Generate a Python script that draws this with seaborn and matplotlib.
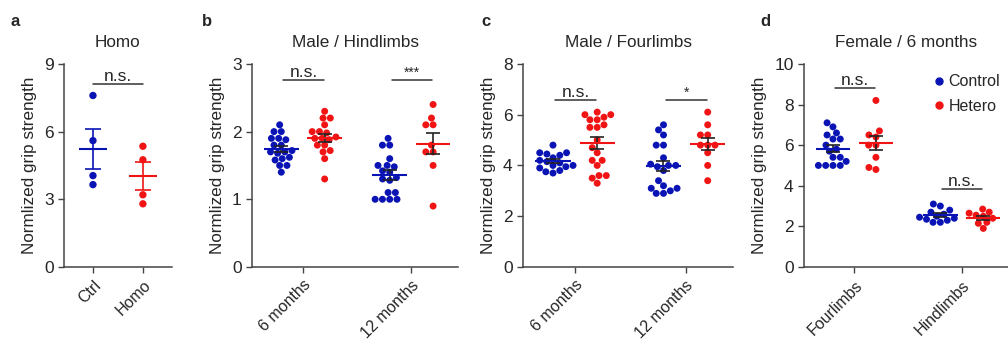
import numpy as np
import pandas as pd
import seaborn as sns
import matplotlib.pyplot as plt
from matplotlib.lines import Line2D

sns.set_style("ticks")
plt.rcParams["font.family"] = ["Liberation Sans", "DejaVu Sans"]

BLUE = "#0a14b4"
RED = "#f01414"

# ---- data ----
# a: Homo
a_ctrl = [7.6, 5.6, 4.05, 3.65]
a_homo = [5.35, 4.75, 3.2, 2.8]

# b: Male / Hindlimbs
b_ctrl_6m = [2.1, 2.0, 2.0, 1.9, 1.9, 1.88, 1.8, 1.8, 1.72, 1.7, 1.68, 1.7, 1.6, 1.58, 1.62, 1.5, 1.5, 1.4]
b_het_6m = [2.3, 2.2, 2.2, 2.1, 2.0, 2.0, 1.98, 1.92, 1.9, 1.9, 1.88, 1.8, 1.8, 1.72, 1.7, 1.6, 1.3]
b_ctrl_12m = [1.9, 1.8, 1.8, 1.6, 1.5, 1.5, 1.48, 1.4, 1.42, 1.3, 1.32, 1.28, 1.1, 1.1, 1.0, 1.0, 1.0, 1.0]
b_het_12m = [2.4, 2.2, 2.1, 2.1, 1.8, 1.7, 1.7, 1.5, 0.9]

# c: Male / Fourlimbs
c_ctrl_6m = [4.8, 4.5, 4.5, 4.45, 4.4, 4.3, 4.2, 4.15, 4.1, 4.0, 4.0, 3.95, 3.9, 3.8, 3.75, 3.7]
c_het_6m = [6.1, 6.0, 6.0, 5.9, 5.8, 5.8, 5.6, 5.5, 5.5, 5.0, 4.7, 4.5, 4.2, 4.2, 4.0, 3.6, 3.6, 3.5, 3.3]
c_ctrl_12m = [5.6, 5.4, 5.2, 4.8, 4.8, 4.3, 4.05, 4.0, 4.0, 3.95, 3.8, 3.4, 3.2, 3.1, 3.1, 3.0, 2.9, 2.9]
c_het_12m = [6.1, 5.6, 5.2, 5.2, 4.8, 4.8, 4.8, 4.5, 4.0, 3.4]

# d: Female / 6 months
d_ctrl_four = [7.1, 6.9, 6.6, 6.5, 6.3, 6.3, 6.0, 5.8, 5.7, 5.4, 5.4, 5.2, 5.0, 5.0, 5.0, 5.0]
d_het_four = [8.2, 6.7, 6.5, 6.4, 6.0, 6.0, 5.4, 4.9, 4.8]
d_ctrl_hind = [3.1, 3.0, 2.8, 2.7, 2.6, 2.5, 2.45, 2.4, 2.35, 2.3, 2.2, 2.2]
d_het_hind = [2.85, 2.7, 2.65, 2.55, 2.5, 2.4, 2.2, 2.15, 1.9]

groups = ["Control", "Hetero"]
age_cats = ["6 months", "12 months"]
limb_cats = ["Fourlimbs", "Hindlimbs"]


def frame(cats, ctrl_lists, het_lists):
    rows = []
    for cat, cl, hl in zip(cats, ctrl_lists, het_lists):
        rows += [(cat, "Control", v) for v in cl]
        rows += [(cat, "Hetero", v) for v in hl]
    return pd.DataFrame(rows, columns=["cat", "group", "value"])


def mean_sem(ax, x, vals, color, half, capsize, errcolor):
    vals = np.asarray(vals)
    m = vals.mean()
    se = vals.std(ddof=1) / np.sqrt(len(vals))
    ax.errorbar(x, m, yerr=se, fmt="none", ecolor=errcolor, elinewidth=1.2,
                capsize=capsize, capthick=1.2, zorder=5)
    ax.hlines(m, x - half, x + half, color=color, lw=1.5, zorder=6)


def sig(ax, x0, x1, y, text, fs=12.5):
    ax.plot([x0, x1], [y, y], color="#333333", lw=1.1, clip_on=False)
    ax.text((x0 + x1) / 2, y, text, ha="center", va="bottom", fontsize=fs)


def style(ax, ymax, step, title):
    ax.set_ylim(0, ymax)
    ax.set_yticks(np.arange(0, ymax + 0.01, step))
    ax.set_title(title, fontsize=12.3, pad=12)
    ax.set_xlabel("")
    ax.set_ylabel("Normlized grip strength", fontsize=12.3, labelpad=5)
    ax.tick_params(axis="y", labelsize=12.5, length=4, width=1, color="#444444")
    ax.tick_params(axis="x", labelsize=11.5, length=4, width=1, color="#444444")
    for lab in ax.get_xticklabels():
        lab.set_rotation(45)
        lab.set_ha("right")
        lab.set_rotation_mode("anchor")
    for s in ["left", "bottom"]:
        ax.spines[s].set_color("#444444")
        ax.spines[s].set_linewidth(1.1)
    sns.despine(ax=ax)


fig = plt.figure(figsize=(10.08, 3.52), dpi=100)
bottom, height = 0.2415, 0.577
ax_a = fig.add_axes([0.0635, bottom, 0.107, height])
ax_b = fig.add_axes([0.250, bottom, 0.2044, height])
ax_c = fig.add_axes([0.519, bottom, 0.2083, height])
ax_d = fig.add_axes([0.7976, bottom, 0.2024, height])

pal = {"Control": BLUE, "Hetero": RED, "Ctrl": BLUE, "Homo": RED}

# ---- a ----
df_a = pd.DataFrame({"cat": ["Ctrl"] * len(a_ctrl) + ["Homo"] * len(a_homo),
                     "value": a_ctrl + a_homo})
sns.swarmplot(data=df_a, x="cat", y="value", hue="cat", palette=pal, size=5.3,
              legend=False, ax=ax_a, order=["Ctrl", "Homo"])
mean_sem(ax_a, 0, a_ctrl, BLUE, 0.28, 6, BLUE)
mean_sem(ax_a, 1, a_homo, RED, 0.28, 6, RED)
ax_a.set_xlim(-0.58, 1.58)
sig(ax_a, 0, 1, 8.1, "n.s.")
style(ax_a, 9, 3, "Homo")

# ---- b, c, d ----
panels = [
    (ax_b, age_cats, [b_ctrl_6m, b_ctrl_12m], [b_het_6m, b_het_12m], 3, 1,
     "Male / Hindlimbs", [(2.76, "n.s.", 12.5), (2.76, "***", 10)]),
    (ax_c, age_cats, [c_ctrl_6m, c_ctrl_12m], [c_het_6m, c_het_12m], 8, 2,
     "Male / Fourlimbs", [(6.58, "n.s.", 12.5), (6.58, "*", 10)]),
    (ax_d, limb_cats, [d_ctrl_four, d_ctrl_hind], [d_het_four, d_het_hind], 10, 2,
     "Female / 6 months", [(8.8, "n.s.", 12.5), (3.84, "n.s.", 12.5)]),
]

for ax, cats, ctrl, het, ymax, step, title, sigs in panels:
    df = frame(cats, ctrl, het)
    sns.swarmplot(data=df, x="cat", y="value", hue="group", order=cats,
                  hue_order=groups, palette=pal, dodge=True, size=5,
                  legend=False, ax=ax)
    for i in range(2):
        mean_sem(ax, i - 0.2, ctrl[i], BLUE, 0.16, 5, "#222222")
        mean_sem(ax, i + 0.2, het[i], RED, 0.16, 5, "#222222")
        y, txt, fs = sigs[i]
        sig(ax, i - 0.18, i + 0.19, y, txt, fs)
    ax.set_xlim(-0.47, 1.43)
    style(ax, ymax, step, title)

handles = [Line2D([], [], marker="o", ls="", color=BLUE, markersize=5, label="Control"),
           Line2D([], [], marker="o", ls="", color=RED, markersize=5, label="Hetero")]
ax_d.legend(handles=handles, loc="upper left", bbox_to_anchor=(0.59, 0.98),
            frameon=False, fontsize=11.5, handletextpad=0.1, labelspacing=0.6,
            handlelength=1.0, borderaxespad=0)

for x, letter in [(15, "a"), (207, "b"), (486, "c"), (765, "d")]:
    fig.text(x / 1008, 1 - 22 / 352, letter, fontsize=12, fontweight="bold",
             ha="center", va="center")

fig.savefig("out.png", dpi=100)
